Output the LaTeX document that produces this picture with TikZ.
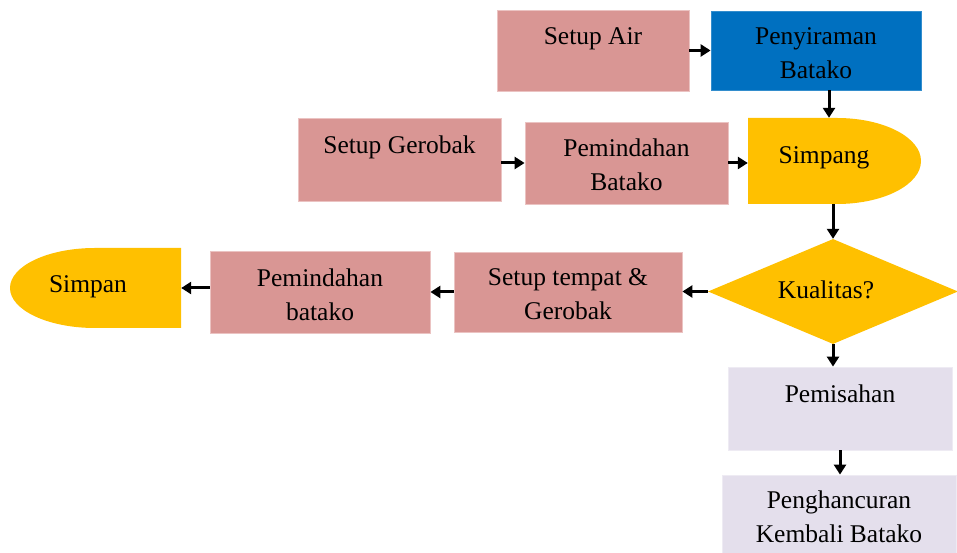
\documentclass[tikz,border=0pt]{standalone}
\usepackage{fontspec}
\setmainfont{Liberation Serif}
\newfontfamily\boxfont{Liberation Serif}
\usetikzlibrary{shapes.geometric,arrows.meta}
\definecolor{rosebox}{HTML}{D99694}
\definecolor{roseline}{HTML}{EBC3C2}
\definecolor{bluebox}{HTML}{0070C0}
\definecolor{goldbox}{HTML}{FFC000}
\definecolor{lavbox}{HTML}{E4DFEC}
\definecolor{lavline}{HTML}{EEEBF3}
\tikzset{
  every node/.style={font=\boxfont\fontsize{25.5}{34}\selectfont, align=center, inner sep=0pt},
  procbox/.style={rectangle, fill=rosebox, draw=roseline, line width=0.8pt},
  waterbox/.style={rectangle, fill=bluebox, draw=bluebox!80!white, line width=0.8pt},
  endbox/.style={rectangle, fill=lavbox, draw=lavline, line width=0.8pt},
  decision/.style={diamond, fill=goldbox, minimum width=250pt, minimum height=105pt},
  holder/.style={rectangle},
  flow/.style={line width=3pt, -{Triangle[length=10pt,width=12pt]}},
}
\begin{document}
\begin{tikzpicture}[x=1pt,y=1pt]
\useasboundingbox (0,0) rectangle (957,553);

% top row
\node[procbox, minimum width=192pt, minimum height=81pt] (air) at (593,502.5) {};
\node (airtxt) at ([yshift=-3pt]air.center) {Setup Air\\\mbox{}};
\node[waterbox, minimum width=210pt, minimum height=79pt] (siram) at (816,502.5) {};
\node (siramtxt) at ([yshift=-3pt]siram.center) {Penyiraman\\Batako};

% second row
\node[procbox, minimum width=203pt, minimum height=83pt] (gerobak) at (399.5,393.5) {};
\node (gerobaktxt) at ([yshift=-2.5pt]gerobak.center) {Setup Gerobak\\\mbox{}};
\node[procbox, minimum width=203pt, minimum height=82pt] (pindahA) at (626.5,390) {};
\node (pindahAtxt) at ([yshift=-2pt]pindahA.center) {Pemindahan\\Batako};

% Simpang: flat left side, rounded right side
\fill[goldbox] (748,435) -- (837,435) arc[start angle=90, end angle=-90, x radius=84, y radius=43] -- (748,349) -- cycle;
\node[holder, minimum width=173pt, minimum height=86pt] (simpang) at (834.5,392) {};
\node (simpangtxt) at (824,395) {Simpang};

% decision and third row
\node[decision] (kualitas) at (833,261.5) {};
\node (kualitastxt) at (826,263.5) {Kualitas?};
\node[procbox, minimum width=228pt, minimum height=80pt] (tempat) at (568,261) {};
\node (tempattxt) at ([yshift=-2pt]tempat.center) {Setup tempat \&\\Gerobak};
\node[procbox, minimum width=220pt, minimum height=82pt] (pindahB) at (320,261) {};
\node (pindahBtxt) at ([yshift=-2.5pt]pindahB.center) {Pemindahan\\batako};

% Simpan: rounded left side, flat right side
\fill[goldbox] (181,305) -- (95,305) arc[start angle=90, end angle=270, x radius=85, y radius=40] -- (181,225) -- cycle;
\node[holder, minimum width=171pt, minimum height=80pt] (simpan) at (95.5,265) {};
\node (simpantxt) at (88,266) {Simpan};

% rejected branch
\node[endbox, minimum width=224pt, minimum height=83pt] (pisah) at (840,144.5) {};
\node (pisahtxt) at ([yshift=-2pt]pisah.center) {Pemisahan\\\mbox{}};
\node[endbox, minimum width=234pt, minimum height=80pt] (hancur) at (839,38) {};
\node (hancurtxt) at ([yshift=-2pt]hancur.center) {Penghancuran\\Kembali Batako};

% connectors
\draw[flow] (air.east) -- (siram.west);
\draw[flow] ([xshift=13pt]siram.south) -- ([xshift=13pt]siram.south |- simpang.north);
\draw[flow] (gerobak.east |- pindahA.east) -- (pindahA.west);
\draw[flow] (pindahA.east) -- (pindahA.east -| simpang.west);
\draw[flow] (simpang.south -| kualitas.north) -- (kualitas.north);
\draw[flow] (kualitas.west) -- (kualitas.west -| tempat.east);
\draw[flow] (tempat.west) -- (pindahB.east);
\draw[flow] (pindahB.west |- simpan.east) -- (simpan.east);
\draw[flow] (kualitas.south) -- (kualitas.south |- pisah.north);
\draw[flow] (pisah.south) -- (pisah.south |- hancur.north);
\end{tikzpicture}
\end{document}
